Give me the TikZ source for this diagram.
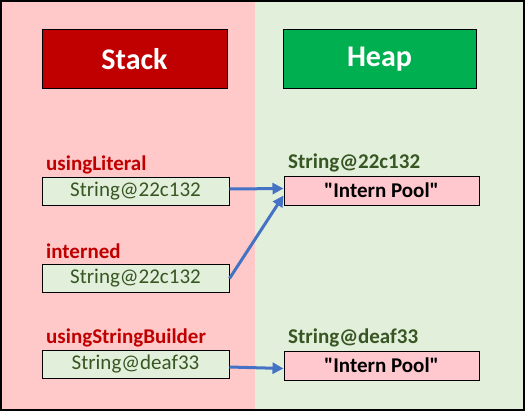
\documentclass[tikz,border=0pt]{standalone}
\usepackage{fontspec}
\setmainfont{Carlito}[Ligatures=TeXOff]
\usetikzlibrary{arrows.meta}
\definecolor{bgpink}{HTML}{FFC9C9}
\definecolor{bggreen}{HTML}{E2EFDA}
\definecolor{stackred}{HTML}{C00000}
\definecolor{heapgreen}{HTML}{00B050}
\definecolor{darkgreen}{HTML}{375623}
\definecolor{boxgreen}{HTML}{E2EFDA}
\definecolor{boxpink}{HTML}{FFC7CE}
\definecolor{arrowblue}{HTML}{4472C4}
\tikzset{
  titlebox/.style={draw=black, line width=1pt, minimum width=185pt, minimum height=58pt, inner sep=0pt, text=white, font=\fontsize{30}{34}\selectfont\bfseries},
  refbox/.style={draw=black, line width=1pt, fill=boxgreen, minimum width=187pt, minimum height=28pt, inner sep=0pt, text=darkgreen, font=\fontsize{21}{24}\selectfont},
  objbox/.style={draw=black, line width=1pt, fill=boxpink, minimum width=195pt, minimum height=29pt, inner sep=0pt, text=black, font=\fontsize{21}{24}\selectfont\bfseries},
  varlabel/.style={anchor=base west, inner sep=0pt, text=stackred, font=\fontsize{21}{24}\selectfont\bfseries},
  objlabel/.style={anchor=base west, inner sep=0pt, text=darkgreen, font=\fontsize{21}{24}\selectfont\bfseries},
  refarrow/.style={draw=arrowblue, line width=3pt, -{Triangle[length=11pt,width=11pt]}}
}
\begin{document}
\begin{tikzpicture}[x=1pt,y=-1pt]
\useasboundingbox (0,0) rectangle (526,412);
\fill[bgpink] (1,1) rectangle (255,410);
\fill[bggreen] (255,1) rectangle (524,410);
\draw[black, line width=1.5pt] (1,1) rectangle (524,410);

\node[titlebox, fill=stackred] (stack) at (134.5,59) {Stack};
\node[titlebox, fill=heapgreen, minimum width=193pt] (heap) at (379.5,59) {Heap};

\node[varlabel] (l1) at (46,170) {usingLiteral};
\node[refbox] (r1) at (135.5,191) {String@22c132};
\node[varlabel] (l2) at (46,258) {interned};
\node[refbox] (r2) at (135.5,278.5) {String@22c132};
\node[varlabel] (l3) at (46,343) {usingStringBuilder};
\node[refbox] (r3) at (135.5,364) {String@deaf33};

\node[objlabel] (o1) at (288,168) {String@22c132};
\node[objbox] (h1) at (381.5,190.5) {"Intern Pool"};
\node[objlabel] (o2) at (288,343) {String@deaf33};
\node[objbox] (h2) at (381.5,365.5) {"Intern Pool"};

\draw[refarrow] ([yshift=2pt]r1.east) -- ([yshift=2pt]h1.west);
\draw[refarrow] (r2.east) -- ([yshift=-5pt]h1.west);
\draw[refarrow] ([yshift=-3pt]r3.east) -- ([yshift=-3pt]h2.west);
\end{tikzpicture}
\end{document}
